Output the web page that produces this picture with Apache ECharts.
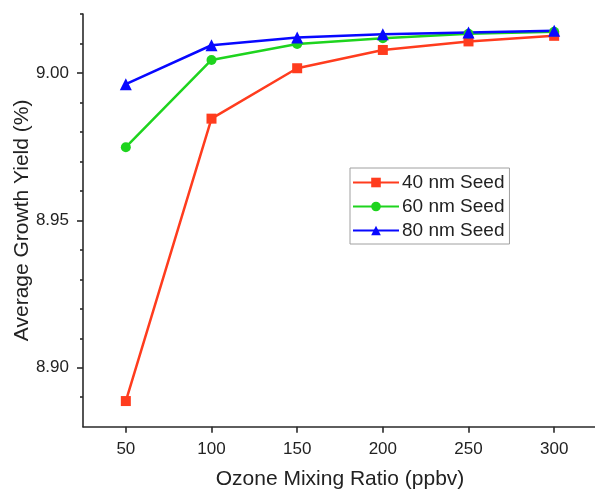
<!DOCTYPE html>
<html>
<head>
<meta charset="utf-8">
<script src="https://cdn.jsdelivr.net/npm/echarts@6/dist/echarts.min.js"></script>
<style>
html,body{margin:0;padding:0;background:#fff;}
#chart{width:595px;height:491px;}
</style>
</head>
<body>
<div id="chart"></div>
<script>
var ozone = [50, 100, 150, 200, 250, 300];
var seed40 = [8.8887, 8.9845, 9.0016, 9.0078, 9.0107, 9.0126];
var seed60 = [8.9748, 9.0044, 9.0098, 9.0118, 9.0133, 9.0140];
var seed80 = [8.9962, 9.0094, 9.0120, 9.0131, 9.0137, 9.0143];
var seriesNames = ['40 nm Seed', '60 nm Seed', '80 nm Seed'];
var xTicks = [50, 100, 150, 200, 250, 300];
var yMajorTicks = [8.90, 8.95, 9.00];
var yMinorTicks = [8.89, 8.91, 8.92, 8.93, 8.94, 8.96, 8.97, 8.98, 8.99, 9.01, 9.02];

function pairs(xs, ys) { return xs.map(function (x, i) { return [x, ys[i]]; }); }

var font = 'Liberation Sans, Arial, sans-serif';
var axisColor = '#2a2a2a';
var textColor = '#222';

var chart = echarts.init(document.getElementById('chart'), null, {renderer: 'canvas'});
chart.setOption({
  backgroundColor: '#fff',
  animation: false,
  textStyle: {fontFamily: font},
  grid: {left: 83, top: 14, width: 514, height: 412.7, containLabel: false, outerBoundsMode: 'none'},
  legend: {
    orient: 'vertical',
    left: 350, top: 168,
    data: seriesNames,
    itemWidth: 46, itemHeight: 12, itemGap: 5,
    padding: [5, 5, 4, 2],
    borderColor: '#a0a0a0', borderWidth: 1,
    textStyle: {fontSize: 19, color: textColor, fontFamily: font, padding: [0, 0, 0, -2]}
  },
  xAxis: {
    type: 'value', min: 25, max: 325,
    name: 'Ozone Mixing Ratio (ppbv)', nameLocation: 'middle', nameGap: 42, nameMoveOverlap: false,
    nameTextStyle: {fontSize: 21, color: textColor, fontFamily: font},
    axisLine: {show: true, onZero: false, lineStyle: {color: axisColor, width: 1.6}},
    axisTick: {show: true, customValues: xTicks, length: 6, lineStyle: {color: axisColor, width: 1.6}},
    axisLabel: {customValues: xTicks, fontSize: 17, color: textColor, margin: 14, fontFamily: font},
    splitLine: {show: false}
  },
  yAxis: [{
    type: 'value', min: 8.88, max: 9.02,
    name: 'Average Growth Yield (%)', nameLocation: 'middle', nameGap: 50, nameMoveOverlap: false,
    nameTextStyle: {fontSize: 21, color: textColor, fontFamily: font},
    axisLine: {show: true, onZero: false, lineStyle: {color: axisColor, width: 1.6}},
    axisTick: {show: true, customValues: yMajorTicks, length: 6, lineStyle: {color: axisColor, width: 1.6}},
    axisLabel: {customValues: yMajorTicks, fontSize: 17, color: textColor, margin: 14, fontFamily: font,
      formatter: function (v) { return v.toFixed(2); }},
    splitLine: {show: false}
  }, {
    type: 'value', min: 8.88, max: 9.02, position: 'left',
    axisLine: {show: false, onZero: false},
    axisTick: {show: true, customValues: yMinorTicks, length: 3, lineStyle: {color: axisColor, width: 1.6}},
    axisLabel: {show: false},
    splitLine: {show: false}
  }],
  series: [{
    name: seriesNames[0], type: 'line', data: pairs(ozone, seed40),
    symbol: 'rect', symbolSize: 10,
    lineStyle: {color: '#FF3C1E', width: 2.5}, itemStyle: {color: '#FF3C1E'}
  }, {
    name: seriesNames[1], type: 'line', data: pairs(ozone, seed60),
    symbol: 'circle', symbolSize: 10,
    lineStyle: {color: '#1ED41E', width: 2.5}, itemStyle: {color: '#1ED41E'}
  }, {
    name: seriesNames[2], type: 'line', data: pairs(ozone, seed80),
    symbol: 'triangle', symbolSize: 12,
    lineStyle: {color: '#0808FF', width: 2.5}, itemStyle: {color: '#0808FF'}
  }]
});
</script>
</body>
</html>
